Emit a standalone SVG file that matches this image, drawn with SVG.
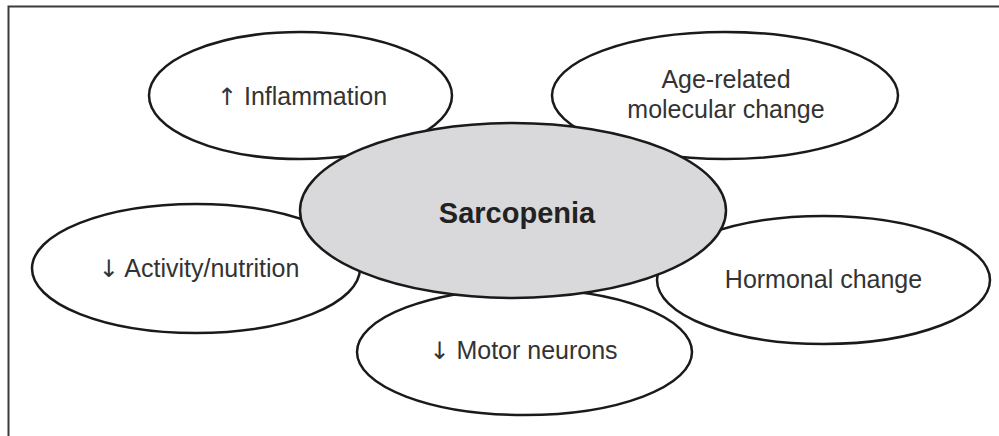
<svg xmlns="http://www.w3.org/2000/svg" width="999" height="436" viewBox="0 0 999 436">
  <style>
    .node ellipse { fill: #ffffff; stroke: #1a1a1a; stroke-width: 2.5; }
    #sarcopenia ellipse { fill: #d9d9db; }
    .lbl { font-family: "Liberation Sans", Arial, sans-serif; font-size: 25px; fill: #333333; text-anchor: middle; }
    .arr { font-family: "DejaVu Sans", sans-serif; font-size: 24px; fill: #333333; }
    .main { font-family: "Liberation Sans", Arial, sans-serif; font-size: 29px; font-weight: bold; fill: #222222; text-anchor: middle; }
    .frame { fill: none; stroke: #3a3a3a; stroke-width: 2; }
  </style>
  <rect width="999" height="436" fill="#ffffff"/>
  <path class="frame" d="M8.5,436 V6.5 H999"/>
  <g id="connectors"></g>
  <g id="inflammation" class="node">
    <ellipse cx="300.5" cy="95.5" rx="151.5" ry="63.5"/>
    <text class="lbl" x="302" y="105"><tspan class="arr">↑</tspan> Inflammation</text>
  </g>
  <g id="age-related" class="node">
    <ellipse cx="725" cy="95.5" rx="173" ry="63.5"/>
    <text class="lbl" x="726" y="88">Age-related</text>
    <text class="lbl" x="726" y="118">molecular change</text>
  </g>
  <g id="activity" class="node">
    <ellipse cx="196" cy="268.5" rx="164" ry="64.5"/>
    <text class="lbl" x="199" y="277"><tspan class="arr">↓</tspan> Activity/nutrition</text>
  </g>
  <g id="motor" class="node">
    <ellipse cx="524.5" cy="352" rx="167.5" ry="63"/>
    <text class="lbl" x="523.5" y="359"><tspan class="arr">↓</tspan> Motor neurons</text>
  </g>
  <g id="hormonal" class="node">
    <ellipse cx="823.5" cy="280" rx="166.5" ry="64"/>
    <text class="lbl" x="823.5" y="288">Hormonal change</text>
  </g>
  <g id="sarcopenia" class="node">
    <ellipse cx="513" cy="210.5" rx="213" ry="87.5"/>
    <text class="main" x="517" y="223">Sarcopenia</text>
  </g>
</svg>
